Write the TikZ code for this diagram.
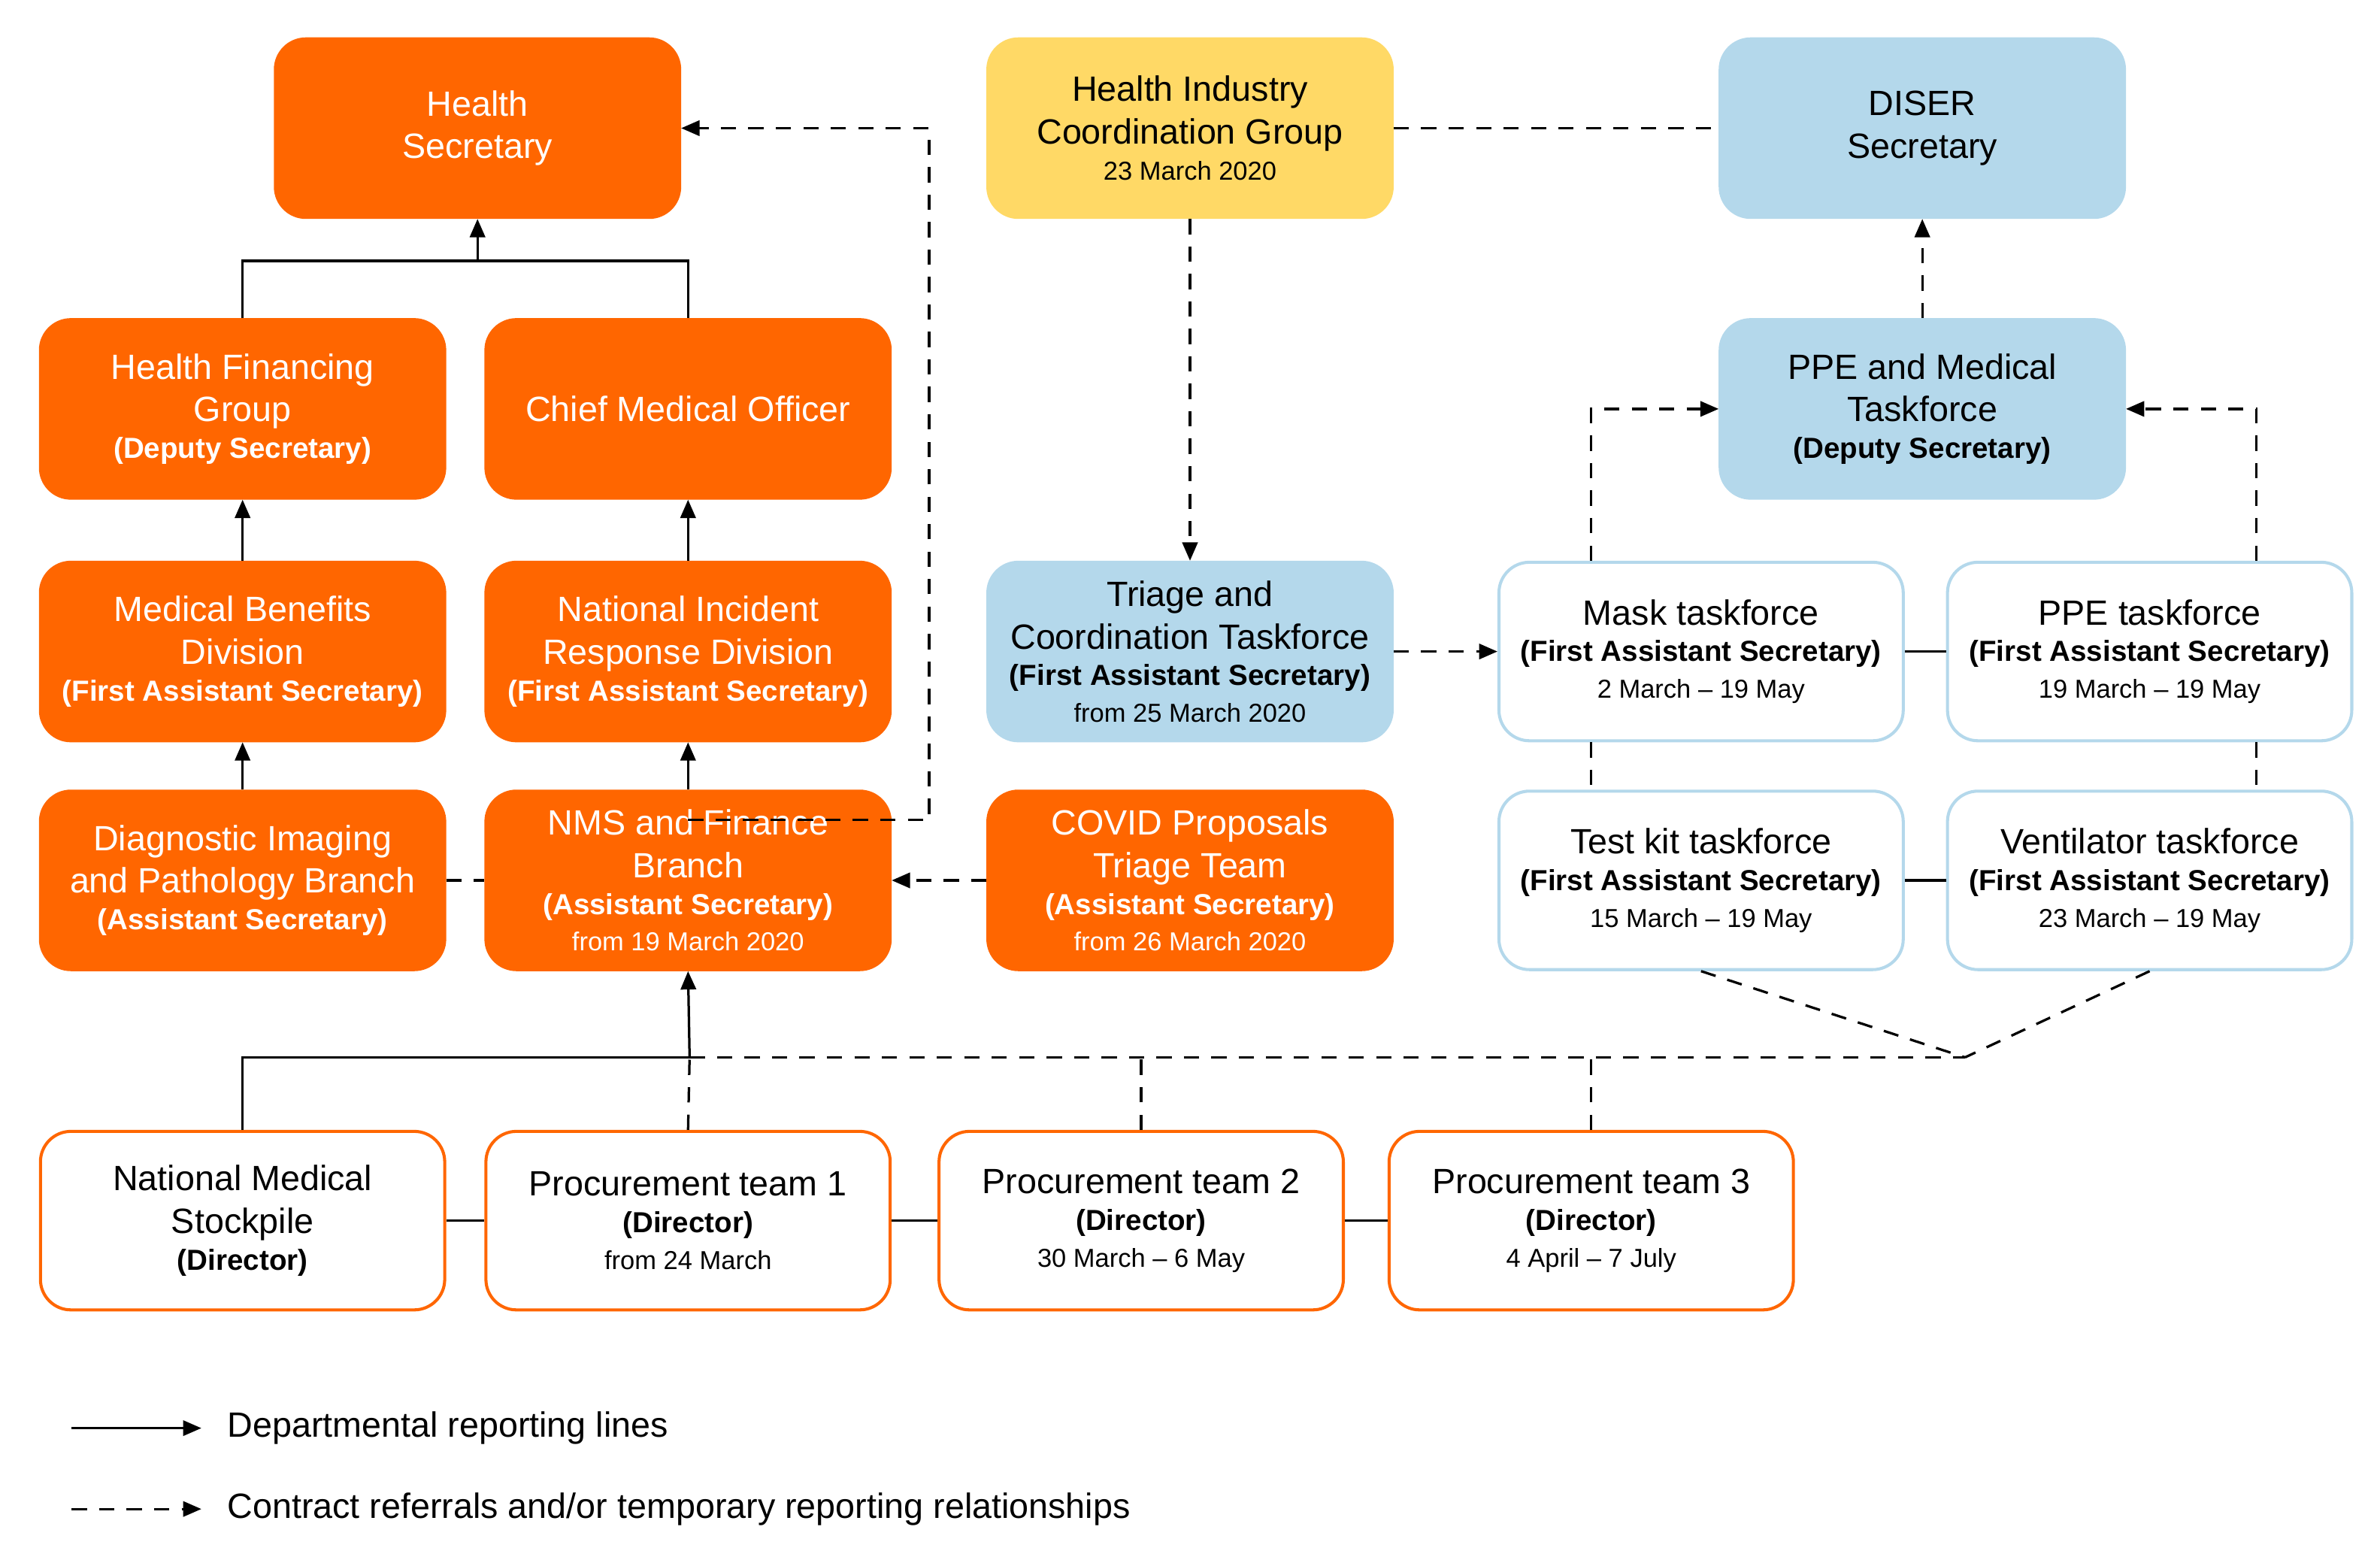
\documentclass[tikz,border=0pt]{standalone}
\usepackage{fontspec}
\setmainfont{Liberation Sans}
\usetikzlibrary{arrows.meta}
\definecolor{org}{HTML}{FF6600}
\definecolor{yel}{HTML}{FFD966}
\definecolor{lbl}{HTML}{B4D8EB}
\begin{document}
\begin{tikzpicture}[x=0.5pt,y=-0.5pt,
 box/.style={rounded corners=10pt,minimum width=132.5pt,minimum height=58.5pt,align=center,inner sep=1pt,font=\fontsize{11.5}{14}\selectfont,line width=1pt},
 ob/.style={box,fill=org,draw=org,text=white},
 yb/.style={box,fill=yel,draw=yel},
 bb/.style={box,fill=lbl,draw=lbl},
 wb/.style={box,fill=white,draw=lbl},
 pb/.style={box,fill=white,draw=org},
 sol/.style={line width=0.8pt},
 das/.style={line width=0.8pt,dash pattern=on 5pt off 4pt},
 arr/.style={-{Triangle[length=6pt,width=5pt]}}]
\newcommand{\bsub}[1]{\\[-2pt]{\fontsize{9.5}{11}\selectfont\bfseries #1}}
\newcommand{\ssub}[1]{\\[-2pt]{\fontsize{8.5}{10}\selectfont #1}}
\useasboundingbox (0,0) rectangle (1560,1022);
\node[ob] (hs) at (313,84) {Health\\Secretary};
\node[yb] (hicg) at (780,84) {Health Industry\\Coordination Group\ssub{23 March 2020}};
\node[bb] (diser) at (1260,84) {DISER\\Secretary};
\node[ob] (hfg) at (159,268) {Health Financing\\Group\bsub{(Deputy Secretary)}};
\node[ob] (cmo) at (451,268) {Chief Medical Officer};
\node[bb] (ppem) at (1260,268) {PPE and Medical\\Taskforce\bsub{(Deputy Secretary)}};
\node[ob] (mbd) at (159,427) {Medical Benefits\\Division\bsub{(First Assistant Secretary)}};
\node[ob] (nird) at (451,427) {National Incident\\Response Division\bsub{(First Assistant Secretary)}};
\node[bb] (tri) at (780,427) {Triage and\\Coordination Taskforce\bsub{(First Assistant Secretary)}\ssub{from 25 March 2020}};
\node[wb] (mask) at (1115,427) {Mask taskforce\bsub{(First Assistant Secretary)}\ssub{2 March -- 19 May}};
\node[wb] (ppet) at (1409,427) {PPE taskforce\bsub{(First Assistant Secretary)}\ssub{19 March -- 19 May}};
\node[ob] (dip) at (159,577) {Diagnostic Imaging\\and Pathology Branch\bsub{(Assistant Secretary)}};
\node[ob] (nms) at (451,577) {NMS and Finance\\Branch\bsub{(Assistant Secretary)}\ssub{from 19 March 2020}};
\node[ob] (cov) at (780,577) {COVID Proposals\\Triage Team\bsub{(Assistant Secretary)}\ssub{from 26 March 2020}};
\node[wb] (test) at (1115,577) {Test kit taskforce\bsub{(First Assistant Secretary)}\ssub{15 March -- 19 May}};
\node[wb] (vent) at (1409,577) {Ventilator taskforce\bsub{(First Assistant Secretary)}\ssub{23 March -- 19 May}};
\node[pb] (stk) at (159,800) {National Medical\\Stockpile\bsub{(Director)}};
\node[pb] (p1) at (451,800) {Procurement team 1\bsub{(Director)}\ssub{from 24 March}};
\node[pb] (p2) at (748,800) {Procurement team 2\bsub{(Director)}\ssub{30 March -- 6 May}};
\node[pb] (p3) at (1043,800) {Procurement team 3\bsub{(Director)}\ssub{4 April -- 7 July}};
\coordinate (j1) at (313,171);
\coordinate (j2) at (452,693);
\coordinate (j3) at (1288,693);
% solid
\draw[sol] (hfg.north) |- (j1) -| (cmo.north);
\draw[sol,arr] (j1) -- (hs.south);
\draw[sol,arr] (mbd) -- (hfg);
\draw[sol,arr] (nird) -- (cmo);
\draw[sol,arr] (dip) -- (mbd);
\draw[sol,arr] (nms) -- (nird);
\draw[sol] (stk.north) |- (j2);
\draw[sol,arr] (j2) -- (nms.south);
\draw[sol] (stk) -- (p1); \draw[sol] (p1) -- (p2); \draw[sol] (p2) -- (p3);
\draw[sol] (mask) -- (ppet); \draw[sol] (test) -- (vent);
% dashed
\draw[das,arr] ([yshift=-10]nms.north) -| (609,84) -- (hs.east);
\draw[das] (hicg) -- (diser);
\draw[das,arr] (hicg) -- (tri);
\draw[das,arr] (ppem) -- (diser);
\draw[das,arr] (mask.north -| 1043,0) |- (ppem.west);
\draw[das,arr] (ppet.north -| 1479,0) |- (ppem.east);
\draw[das,arr] (tri) -- (mask);
\draw[das] (mask.south -| 1043,0) -- (test.north -| 1043,0);
\draw[das] (ppet.south -| 1479,0) -- (vent.north -| 1479,0);
\draw[das] (dip) -- (nms);
\draw[das,arr] (cov) -- (nms);
\draw[das] (j2) -- (j3);
\draw[das] (p1.north) -- (452,693);
\draw[das] (p2.north) -- (748,693);
\draw[das] (p3.north) -- (1043,693);
\draw[das] (test.south) -- (j3);
\draw[das] (vent.south) -- (j3);
% legend
\coordinate (l1a) at (47,936); \coordinate (l1b) at (132,936);
\coordinate (l2a) at (47,989); \coordinate (l2b) at (132,989);
\draw[sol,arr] (l1a) -- (l1b);
\draw[das,arr] (l2a) -- (l2b);
\node[anchor=west,font=\fontsize{11.5}{14}\selectfont] (t1) at (142,936) {Departmental reporting lines};
\node[anchor=west,font=\fontsize{11.5}{14}\selectfont] (t2) at (142,989) {Contract referrals and/or temporary reporting relationships};
\end{tikzpicture}
\end{document}
